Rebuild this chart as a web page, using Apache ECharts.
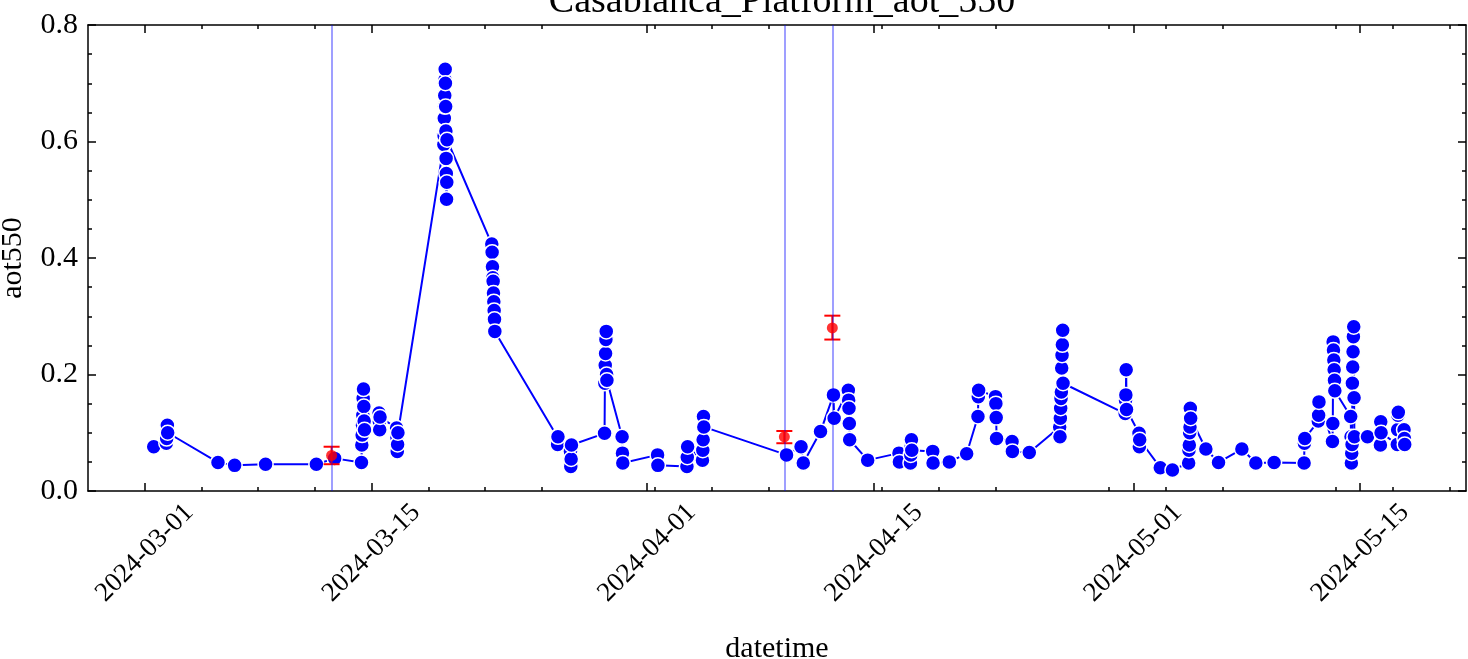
<!DOCTYPE html>
<html>
<head>
<meta charset="utf-8">
<script src="https://cdn.jsdelivr.net/npm/echarts@6/dist/echarts.min.js"></script>
<style>
  html, body { margin: 0; padding: 0; background: #fff; }
  #chart { width: 1468px; height: 659px; }
</style>
</head>
<body>
<div id="chart"></div>
<script>
// aot550 observations: [time (UTC), value]
var obs = [
  ['2024-03-01 13:20', 0.076],
  ['2024-03-02 08:00', 0.082], ['2024-03-02 08:30', 0.090], ['2024-03-02 09:00', 0.105], ['2024-03-02 09:30', 0.113], ['2024-03-02 10:00', 0.100],
  ['2024-03-05 12:30', 0.049],
  ['2024-03-06 13:10', 0.044],
  ['2024-03-08 11:00', 0.046],
  ['2024-03-11 14:10', 0.046],
  ['2024-03-12 17:15', 0.056],
  ['2024-03-14 09:00', 0.049], ['2024-03-14 09:30', 0.079], ['2024-03-14 10:00', 0.096], ['2024-03-14 10:30', 0.113], ['2024-03-14 11:00', 0.130],
  ['2024-03-14 11:30', 0.159], ['2024-03-14 12:00', 0.175], ['2024-03-14 12:30', 0.145], ['2024-03-14 13:00', 0.120], ['2024-03-14 13:30', 0.105],
  ['2024-03-15 11:00', 0.134], ['2024-03-15 11:30', 0.119], ['2024-03-15 12:00', 0.105], ['2024-03-15 12:30', 0.127],
  ['2024-03-16 13:00', 0.108], ['2024-03-16 13:30', 0.092], ['2024-03-16 14:00', 0.068], ['2024-03-16 14:30', 0.080], ['2024-03-16 15:00', 0.100],
  ['2024-03-19 11:00', 0.595], ['2024-03-19 11:20', 0.610], ['2024-03-19 11:40', 0.640], ['2024-03-19 12:00', 0.660], ['2024-03-19 12:20', 0.679],
  ['2024-03-19 12:40', 0.706], ['2024-03-19 13:00', 0.724], ['2024-03-19 13:20', 0.700], ['2024-03-19 13:40', 0.660], ['2024-03-19 14:00', 0.618],
  ['2024-03-19 14:20', 0.571], ['2024-03-19 14:40', 0.545], ['2024-03-19 15:00', 0.501], ['2024-03-19 15:20', 0.530], ['2024-03-19 15:40', 0.603],
  ['2024-03-22 10:00', 0.424], ['2024-03-22 10:30', 0.410], ['2024-03-22 11:00', 0.385], ['2024-03-22 11:30', 0.366], ['2024-03-22 12:00', 0.360],
  ['2024-03-22 12:30', 0.340], ['2024-03-22 13:00', 0.325], ['2024-03-22 13:30', 0.310], ['2024-03-22 14:00', 0.295], ['2024-03-22 14:30', 0.274],
  ['2024-03-26 11:00', 0.093], ['2024-03-26 11:30', 0.080], ['2024-03-26 12:00', 0.093],
  ['2024-03-27 06:30', 0.068], ['2024-03-27 07:00', 0.042], ['2024-03-27 07:30', 0.055], ['2024-03-27 08:00', 0.079],
  ['2024-03-29 09:00', 0.099], ['2024-03-29 09:30', 0.185], ['2024-03-29 10:00', 0.216], ['2024-03-29 10:30', 0.236], ['2024-03-29 11:00', 0.260],
  ['2024-03-29 11:30', 0.274], ['2024-03-29 12:00', 0.200], ['2024-03-29 12:30', 0.190],
  ['2024-03-30 11:00', 0.093], ['2024-03-30 11:30', 0.065], ['2024-03-30 12:00', 0.048],
  ['2024-04-01 15:30', 0.062], ['2024-04-01 16:00', 0.044],
  ['2024-04-03 11:00', 0.042], ['2024-04-03 11:30', 0.058], ['2024-04-03 12:00', 0.076],
  ['2024-04-04 10:00', 0.053], ['2024-04-04 10:30', 0.070], ['2024-04-04 11:00', 0.088], ['2024-04-04 11:30', 0.128], ['2024-04-04 12:00', 0.110],
  ['2024-04-09 14:30', 0.062],
  ['2024-04-10 12:00', 0.076], ['2024-04-10 15:20', 0.048],
  ['2024-04-11 16:50', 0.102],
  ['2024-04-12 12:00', 0.165], ['2024-04-12 13:00', 0.125],
  ['2024-04-13 10:00', 0.173], ['2024-04-13 10:30', 0.156], ['2024-04-13 11:00', 0.142], ['2024-04-13 11:30', 0.116], ['2024-04-13 12:00', 0.088],
  ['2024-04-14 14:40', 0.053],
  ['2024-04-16 13:00', 0.065], ['2024-04-16 13:40', 0.050],
  ['2024-04-17 06:00', 0.048], ['2024-04-17 06:30', 0.062], ['2024-04-17 07:00', 0.076], ['2024-04-17 07:30', 0.088], ['2024-04-17 08:00', 0.070],
  ['2024-04-18 15:00', 0.068], ['2024-04-18 15:30', 0.048],
  ['2024-04-19 15:35', 0.050],
  ['2024-04-20 17:15', 0.064],
  ['2024-04-21 10:00', 0.128], ['2024-04-21 10:30', 0.162], ['2024-04-21 11:00', 0.173],
  ['2024-04-22 12:00', 0.162], ['2024-04-22 12:30', 0.150], ['2024-04-22 13:00', 0.126], ['2024-04-22 13:30', 0.090],
  ['2024-04-23 12:30', 0.085], ['2024-04-23 13:00', 0.068],
  ['2024-04-24 14:00', 0.066],
  ['2024-04-26 11:00', 0.110], ['2024-04-26 11:30', 0.093], ['2024-04-26 12:00', 0.125], ['2024-04-26 12:30', 0.142], ['2024-04-26 13:00', 0.159],
  ['2024-04-26 13:30', 0.170], ['2024-04-26 14:00', 0.211], ['2024-04-26 14:30', 0.233], ['2024-04-26 15:00', 0.251], ['2024-04-26 15:30', 0.276],
  ['2024-04-26 16:00', 0.185],
  ['2024-04-30 12:00', 0.133], ['2024-04-30 12:30', 0.156], ['2024-04-30 13:00', 0.165], ['2024-04-30 13:30', 0.208], ['2024-04-30 14:00', 0.140],
  ['2024-05-01 08:30', 0.099], ['2024-05-01 09:00', 0.076], ['2024-05-01 09:30', 0.088],
  ['2024-05-02 16:00', 0.040],
  ['2024-05-03 10:00', 0.036],
  ['2024-05-04 10:00', 0.048], ['2024-05-04 10:30', 0.070], ['2024-05-04 11:00', 0.079], ['2024-05-04 11:30', 0.100], ['2024-05-04 12:00', 0.110],
  ['2024-05-04 12:30', 0.142], ['2024-05-04 13:00', 0.125],
  ['2024-05-05 11:30', 0.072],
  ['2024-05-06 06:15', 0.049],
  ['2024-05-07 16:50', 0.072],
  ['2024-05-08 13:30', 0.048],
  ['2024-05-09 16:35', 0.049],
  ['2024-05-11 13:00', 0.048], ['2024-05-11 13:30', 0.082], ['2024-05-11 14:00', 0.090],
  ['2024-05-12 10:00', 0.120], ['2024-05-12 10:30', 0.130], ['2024-05-12 11:00', 0.153],
  ['2024-05-13 07:00', 0.085], ['2024-05-13 07:30', 0.116], ['2024-05-13 08:00', 0.256], ['2024-05-13 08:30', 0.242], ['2024-05-13 09:00', 0.225],
  ['2024-05-13 09:30', 0.208], ['2024-05-13 10:00', 0.190], ['2024-05-13 10:30', 0.172],
  ['2024-05-14 10:00', 0.128], ['2024-05-14 10:30', 0.093], ['2024-05-14 11:00', 0.048], ['2024-05-14 11:30', 0.065], ['2024-05-14 12:00', 0.080],
  ['2024-05-14 12:30', 0.185], ['2024-05-14 13:00', 0.213], ['2024-05-14 13:30', 0.239], ['2024-05-14 14:00', 0.265], ['2024-05-14 14:30', 0.282],
  ['2024-05-14 15:00', 0.160], ['2024-05-14 15:30', 0.093],
  ['2024-05-15 10:50', 0.093],
  ['2024-05-16 06:00', 0.079], ['2024-05-16 06:30', 0.119], ['2024-05-16 07:00', 0.100],
  ['2024-05-17 07:00', 0.080], ['2024-05-17 07:30', 0.105], ['2024-05-17 08:00', 0.130], ['2024-05-17 08:30', 0.135],
  ['2024-05-17 17:00', 0.105], ['2024-05-17 17:30', 0.090], ['2024-05-17 18:00', 0.080]
];

// reference values with error bars: [time, value, low, high]
var refPts = [
  ['2024-03-12 12:45', 0.061, 0.046, 0.076],
  ['2024-04-09 11:15', 0.093, 0.082, 0.103],
  ['2024-04-12 10:20', 0.280, 0.260, 0.301]
];
// vertical marker lines
var vLines = ['2024-03-12 12:45', '2024-04-09 11:15', '2024-04-12 10:20'];

var majorDates = ['2024-03-01', '2024-03-15', '2024-04-01', '2024-04-15', '2024-05-01', '2024-05-15'];
var xStart = '2024-02-26 12:00';
var xEnd = '2024-05-21 12:45';
var yMin = 0, yMax = 0.8, yStep = 0.2;

function ts(s) {
  if (s.length <= 10) s = s + ' 00:00';
  return Date.parse(s.replace(' ', 'T') + ':00Z');
}

var DAY = 86400000;
var majorTicks = majorDates.map(ts);
// minor ticks every 3.5 days starting from the first major tick
var minorTicks = [];
for (var k = 1; k <= 23; k++) {
  if (k % 4 === 0) continue;
  minorTicks.push(majorTicks[0] + k * 3.5 * DAY);
}

var FONT = 'Liberation Serif';
var BLUE = '#0000ff';

var chart = echarts.init(document.getElementById('chart'));

function xAxisDef(pos, ticks, len, withLine) {
  return {
    type: 'value',
    position: pos,
    min: ts(xStart),
    max: ts(xEnd),
    splitLine: { show: false },
    axisLine: { show: withLine, onZero: false, lineStyle: { color: '#000', width: 1.5 } },
    axisTick: { show: true, inside: true, length: len, customValues: ticks, lineStyle: { color: '#000', width: 1.5 } },
    axisLabel: { show: false }
  };
}

var xMain = xAxisDef('bottom', majorTicks, 8, true);
xMain.axisLabel = {
  show: true,
  customValues: majorTicks,
  rotate: 45,
  align: 'center',
  verticalAlign: 'middle',
  margin: 62,
  fontFamily: FONT,
  fontSize: 27,
  color: '#000',
  formatter: function (v) { return new Date(v).toISOString().slice(0, 10); }
};
xMain.name = 'datetime';
xMain.nameLocation = 'middle';
xMain.nameGap = 143;
xMain.nameTextStyle = { fontFamily: FONT, fontSize: 30, color: '#000' };

function yAxisDef(pos, labels) {
  return {
    type: 'value',
    position: pos,
    min: yMin,
    max: yMax,
    interval: yStep,
    splitLine: { show: false },
    axisLine: { show: true, onZero: false, lineStyle: { color: '#000', width: 1.5 } },
    axisTick: { show: true, inside: true, length: 8, lineStyle: { color: '#000', width: 1.5 } },
    minorTick: { show: true, splitNumber: 4, length: 4, lineStyle: { color: '#000', width: 1.5 } },
    axisLabel: {
      show: labels,
      margin: 10,
      fontFamily: FONT,
      fontSize: 30,
      color: '#000',
      formatter: function (v) { return v.toFixed(1); }
    }
  };
}

var yLeft = yAxisDef('left', true);
yLeft.name = 'aot550';
yLeft.nameLocation = 'middle';
yLeft.nameGap = 60;
yLeft.nameTextStyle = { fontFamily: FONT, fontSize: 30, color: '#000' };

var option = {
  animation: false,
  backgroundColor: '#fff',
  title: {
    text: 'Casablanca_Platform_aot_550',
    left: 777,
    textAlign: 'center',
    top: -22,
    textStyle: { fontFamily: FONT, fontSize: 38, fontWeight: 'normal', color: '#000' }
  },
  grid: { left: 88, right: 2, top: 25, bottom: 168, containLabel: false, outerBoundsMode: 'none' },
  xAxis: [
    xMain,
    xAxisDef('bottom', minorTicks, 4, false),
    xAxisDef('top', majorTicks, 8, true),
    xAxisDef('top', minorTicks, 4, false)
  ],
  yAxis: [yLeft, yAxisDef('right', false)],
  series: [
    {
      name: 'aot550',
      type: 'line',
      xAxisIndex: 0,
      yAxisIndex: 0,
      z: 2,
      data: obs.map(function (d) { return [ts(d[0]), d[1]]; }),
      symbol: 'circle',
      symbolSize: 15,
      showSymbol: true,
      showAllSymbol: true,
      lineStyle: { color: BLUE, width: 2 },
      itemStyle: { color: BLUE, borderColor: '#fff', borderWidth: 1.5 }
    },
    {
      name: 'errbar',
      type: 'custom',
      xAxisIndex: 0,
      yAxisIndex: 0,
      z: 4,
      data: refPts.map(function (d) { return [ts(d[0]), d[1], d[2], d[3]]; }),
      renderItem: function (params, api) {
        var x = api.value(0);
        var lo = api.coord([x, api.value(2)]);
        var hi = api.coord([x, api.value(3)]);
        var w = 8;
        var st = { stroke: '#ff0000', lineWidth: 2 };
        return {
          type: 'group',
          children: [
            { type: 'line', shape: { x1: lo[0], y1: lo[1], x2: hi[0], y2: hi[1] }, style: st },
            { type: 'line', shape: { x1: lo[0] - w, y1: lo[1], x2: lo[0] + w, y2: lo[1] }, style: st },
            { type: 'line', shape: { x1: hi[0] - w, y1: hi[1], x2: hi[0] + w, y2: hi[1] }, style: st }
          ]
        };
      }
    },
    {
      name: 'ref',
      type: 'scatter',
      xAxisIndex: 0,
      yAxisIndex: 0,
      z: 5,
      data: refPts.map(function (d) { return [ts(d[0]), d[1]]; }),
      symbol: 'circle',
      symbolSize: 11,
      itemStyle: { color: '#ff0000' },
      markLine: {
        silent: true,
        symbol: 'none',
        label: { show: false },
        lineStyle: { color: 'rgba(0,0,255,0.5)', width: 1.5, type: 'solid' },
        data: vLines.map(function (t) { return { xAxis: ts(t) }; })
      }
    }
  ]
};

chart.setOption(option);
</script>
</body>
</html>
